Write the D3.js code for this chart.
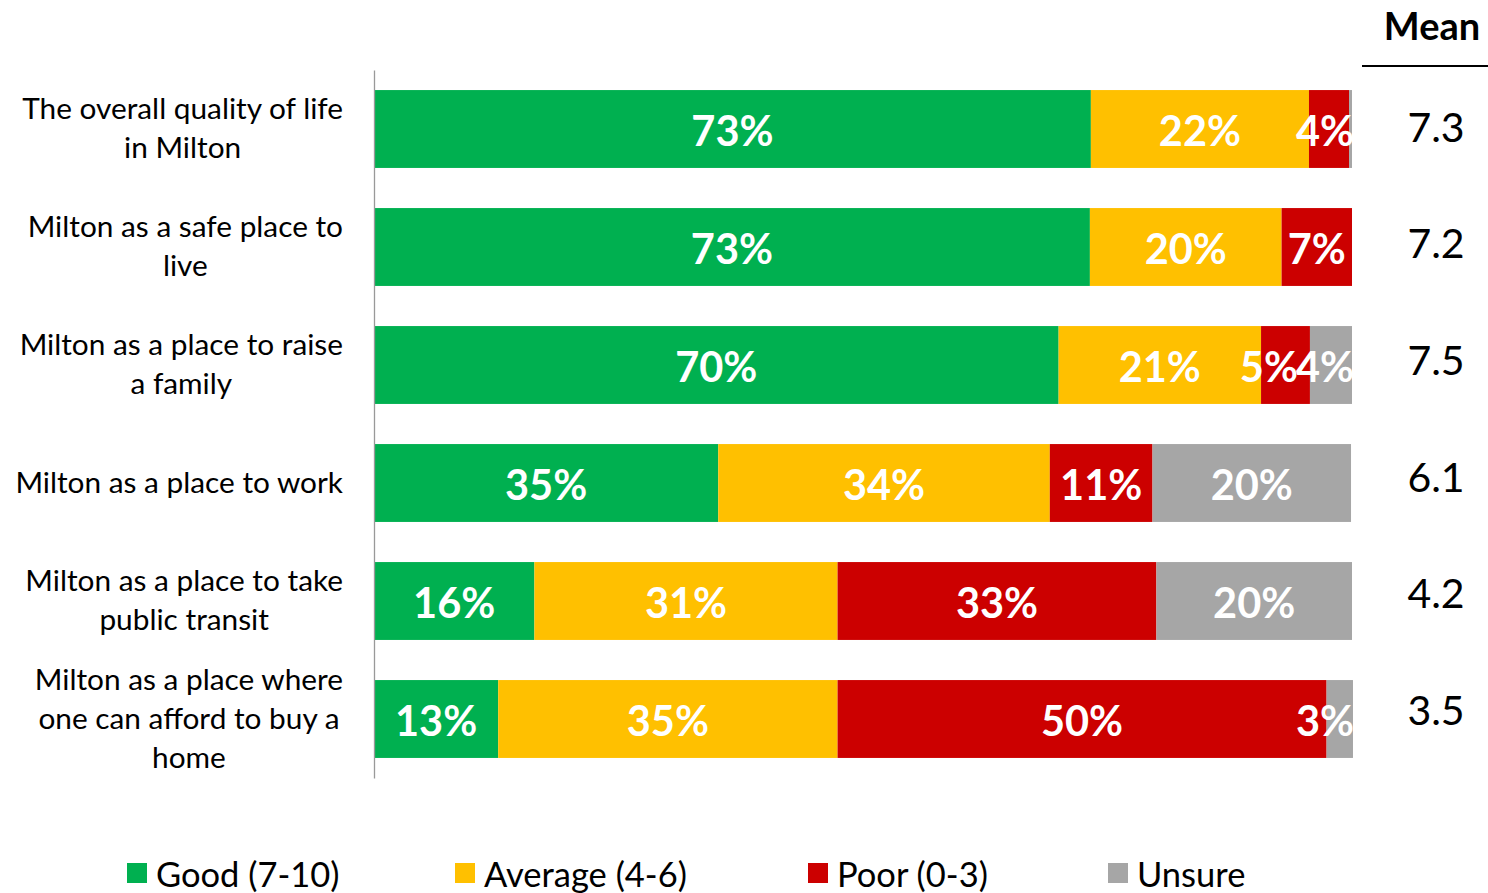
<!DOCTYPE html>
<html><head><meta charset="utf-8">
<script src="https://cdn.jsdelivr.net/npm/d3@7"></script>
<style>body{margin:0;background:#fff}svg{display:block}text{font-family:Lato,"Open Sans",sans-serif}</style>
</head><body><svg id="c" width="1488" height="893"></svg>
<script>
const categories = [
  ["The overall quality of life","in Milton"],
  ["Milton as a safe place to","live"],
  ["Milton as a place to raise","a family"],
  ["Milton as a place to work"],
  ["Milton as a place to take","public transit"],
  ["Milton as a place where","one can afford to buy a","home"]
];
const seriesNames = ["Good (7-10)","Average (4-6)","Poor (0-3)","Unsure"];
const good    = [73.3, 73.2, 70.0, 35.2, 16.4, 12.7];
const average = [22.3, 19.6, 20.7, 33.9, 31.0, 34.7];
const poor    = [ 4.1,  7.2,  5.0, 10.5, 32.6, 50.0];
const unsure  = [ 0.3,  0.0,  4.3, 20.3, 20.0,  2.7];
const means   = ["7.3","7.2","7.5","6.1","4.2","3.5"];
const colors  = ["#00B050","#FFC000","#CC0000","#A6A6A6"];

const svg = d3.select("#c");
const series = [good, average, poor, unsure];
const rows = categories.map((c,i)=>({i, vals: series.map(s=>s[i])}));

const x = d3.scaleLinear().domain([0,100]).range([374,1352]);
const y = d3.scaleBand().domain(d3.range(categories.length)).range([70,778]).paddingInner(0.34).paddingOuter(0.17);

// bars
const g = svg.append("g");
rows.forEach(r=>{
  let cum = 0;
  const segs = r.vals.map((v,k)=>{const s={k,v,x0:cum,x1:cum+v}; cum+=v; return s;});
  g.selectAll(null).data(segs.filter(s=>s.v>0)).enter().append("rect")
    .attr("x",s=>x(s.x0)).attr("width",s=>x(s.x1)-x(s.x0))
    .attr("y",y(r.i)).attr("height",y.bandwidth())
    .attr("fill",s=>colors[s.k]);
  // labels, placed right-to-left so they stay inside the bar
  let limit = x(100);
  const lbl = segs.filter(s=>Math.round(s.v)>=1);
  for (let j=lbl.length-1;j>=0;j--){
    const s = lbl[j];
    const t = g.append("text").text(Math.round(s.v)+"%")
      .attr("font-size",41.5).attr("font-weight",700).attr("fill","#fff")
      .attr("text-anchor","middle").attr("dominant-baseline","central");
    const w = t.node().getComputedTextLength();
    const cx = Math.min((x(s.x0)+x(s.x1))/2, limit - w/2 + 2);
    t.attr("x",cx).attr("y",y(r.i)+y.bandwidth()/2+1);
    limit = cx - w/2;
  }
});

// axis line
svg.append("g").attr("transform","translate(374,0)")
  .call(d3.axisLeft(y).tickSize(0).tickFormat(""))
  .call(a=>a.select(".domain").attr("stroke","#999").attr("stroke-width",1.3));

// category labels
const lineH = 39;
categories.forEach((lines,i)=>{
  const t = svg.append("text").attr("font-size",29.8).attr("fill","#000").attr("text-anchor","middle");
  const cy = y(i)+y.bandwidth()/2 - 2;
  lines.forEach((l,k)=>{
    t.append("tspan").text(l).attr("y", cy + (k-(lines.length-1)/2)*lineH).attr("dominant-baseline","central");
  });
  let maxW = 0;
  t.selectAll("tspan").each(function(){maxW=Math.max(maxW,this.getComputedTextLength());});
  t.selectAll("tspan").attr("x", 343 - maxW/2);
});

// Mean column
svg.append("text").text("Mean").attr("x",1432).attr("y",25).attr("font-size",38).attr("font-weight",700)
  .attr("text-anchor","middle").attr("dominant-baseline","central");
svg.append("line").attr("x1",1362).attr("x2",1488).attr("y1",66).attr("y2",66).attr("stroke","#000").attr("stroke-width",2);
svg.selectAll(".mean").data(means).enter().append("text")
  .text(d=>d).attr("x",1436).attr("y",(d,i)=>y(i)+y.bandwidth()/2-3 - i*1.3)
  .attr("font-size",41).attr("text-anchor","middle").attr("dominant-baseline","central");

// legend
const legX = [127,455,808,1108];
seriesNames.forEach((n,k)=>{
  svg.append("rect").attr("x",legX[k]).attr("y",863).attr("width",20).attr("height",20).attr("fill",colors[k]);
  svg.append("text").text(n).attr("x",legX[k]+29).attr("y",873).attr("font-size",34.5)
    .attr("dominant-baseline","central");
});
</script></body></html>
